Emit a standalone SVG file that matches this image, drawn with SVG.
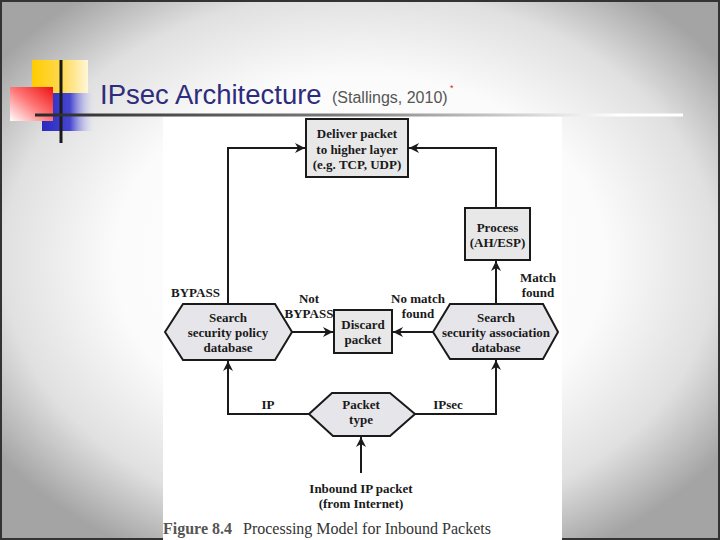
<svg xmlns="http://www.w3.org/2000/svg" width="720" height="540" viewBox="0 0 720 540">
<defs>
<radialGradient id="bg" cx="50%" cy="48%" r="62%">
<stop offset="0" stop-color="#ffffff"/>
<stop offset="0.55" stop-color="#fbfbfb"/>
<stop offset="0.8" stop-color="#e0e0e0"/>
<stop offset="1" stop-color="#a4a4a4"/>
</radialGradient>
<linearGradient id="rule" x1="0" y1="0" x2="1" y2="0">
<stop offset="0" stop-color="#2a2a2a"/>
<stop offset="0.45" stop-color="#777"/>
<stop offset="0.9" stop-color="#ffffff"/>
</linearGradient>
<linearGradient id="yel" x1="0" y1="0" x2="1" y2="0">
<stop offset="0" stop-color="#ffcc00"/>
<stop offset="0.5" stop-color="#ffd84a"/>
<stop offset="1" stop-color="#fff6d8"/>
</linearGradient>
<linearGradient id="red" x1="1" y1="0" x2="0" y2="1">
<stop offset="0" stop-color="#ee1111"/>
<stop offset="0.5" stop-color="#f77"/>
<stop offset="1" stop-color="#ffffff"/>
</linearGradient>
<linearGradient id="blu" x1="0" y1="0" x2="1" y2="0">
<stop offset="0" stop-color="#2a2ac0"/>
<stop offset="0.5" stop-color="#4545d0"/>
<stop offset="1" stop-color="#ffffff" stop-opacity="0"/>
</linearGradient>
<marker id="ah" markerUnits="userSpaceOnUse" markerWidth="11" markerHeight="10" refX="10" refY="5" orient="auto">
<path d="M0,0 L10,5 L0,10 L3,5 Z" fill="#1a1a1a"/>
</marker>
<style>
.ln{fill:none;stroke:#1a1a1a;stroke-width:2}
.bx{fill:#e8e8e8;stroke:#1a1a1a;stroke-width:2}
.hx{fill:#e6e6ea;stroke:#1a1a1a;stroke-width:2}
.t{font-family:"Liberation Serif","Times New Roman",serif;font-weight:bold;font-size:13px;fill:#1a1a1a;text-anchor:middle}
.lb{font-family:"Liberation Serif","Times New Roman",serif;font-weight:bold;font-size:13px;fill:#1a1a1a}
</style>
</defs>
<rect x="0" y="0" width="720" height="540" fill="url(#bg)"/>
<rect x="1" y="1" width="718" height="538" fill="none" stroke="#333" stroke-width="2"/>
<g id="logo">
<rect x="32" y="60" width="56" height="33" fill="url(#yel)"/>
<rect x="42" y="93" width="56" height="38" fill="url(#blu)"/>
<rect x="10" y="87" width="43" height="34" fill="url(#red)"/>
<rect x="59.5" y="60" width="3" height="83" fill="#1a1a1a"/>
</g>
<rect x="35" y="113.5" width="648" height="3" fill="url(#rule)"/>
<g id="title">
<text x="100" y="104" font-family="Liberation Sans, Arial, sans-serif" font-size="27.5" fill="#2e2c7c">IPsec Architecture</text>
<text x="332" y="103" font-family="Liberation Sans, Arial, sans-serif" font-size="16" fill="#555">(Stallings, 2010)</text>
<text x="450" y="91" font-family="Liberation Sans, Arial, sans-serif" font-size="9" fill="#d22">*</text>
</g>
<rect x="163" y="117" width="399" height="423" fill="#ffffff"/>
<g id="connectors">
<polyline class="ln" points="228,304 228,148 305,148" marker-end="url(#ah)"/>
<polyline class="ln" points="496,208 496,148 409,148" marker-end="url(#ah)"/>
<line class="ln" x1="496" y1="304" x2="496" y2="261" marker-end="url(#ah)"/>
<line class="ln" x1="292" y1="332" x2="333" y2="332" marker-end="url(#ah)"/>
<line class="ln" x1="433" y1="332" x2="393" y2="332" marker-end="url(#ah)"/>
<polyline class="ln" points="309,414 228,414 228,361" marker-end="url(#ah)"/>
<polyline class="ln" points="415,414 496,414 496,360" marker-end="url(#ah)"/>
<line class="ln" x1="361" y1="473" x2="361" y2="437" marker-end="url(#ah)"/>
</g>
<g id="deliver">
<rect class="bx" x="306" y="119" width="102" height="58"/>
<text class="t" x="357" y="138">Deliver packet</text>
<text class="t" x="357" y="153.5">to higher layer</text>
<text class="t" x="357" y="169">(e.g. TCP, UDP)</text>
</g>
<g id="process">
<rect class="bx" x="465" y="208" width="65" height="52"/>
<text class="t" x="497.5" y="232">Process</text>
<text class="t" x="497.5" y="247">(AH/ESP)</text>
</g>
<g id="spd">
<polygon class="hx" points="165,332 183,304 275,304 292,332 275,360 183,360"/>
<text class="t" x="228" y="322">Search</text>
<text class="t" x="228" y="337">security policy</text>
<text class="t" x="228" y="352">database</text>
</g>
<g id="discard">
<rect class="bx" x="334" y="310" width="58" height="43"/>
<text class="t" x="363" y="329">Discard</text>
<text class="t" x="363" y="344">packet</text>
</g>
<g id="sad">
<polygon class="hx" points="433,332 450,304 543,304 558,332 543,359 450,359"/>
<text class="t" x="496" y="322">Search</text>
<text class="t" x="496" y="337">security association</text>
<text class="t" x="496" y="352">database</text>
</g>
<g id="ptype">
<polygon class="hx" points="309,414 332,393 390,393 415,414 390,436 333,436"/>
<text class="t" x="361" y="409">Packet</text>
<text class="t" x="361" y="424">type</text>
</g>
<g id="labels">
<text class="lb" x="171" y="297">BYPASS</text>
<text class="t" x="309" y="303">Not</text>
<text class="t" x="309" y="318">BYPASS</text>
<text class="t" x="418" y="303">No match</text>
<text class="t" x="418" y="318">found</text>
<text class="t" x="538" y="282">Match</text>
<text class="t" x="538" y="297">found</text>
<text class="t" x="268" y="409">IP</text>
<text class="t" x="448" y="409">IPsec</text>
</g>
<g id="inbound">
<text class="t" x="361" y="493">Inbound IP packet</text>
<text class="t" x="361" y="508">(from Internet)</text>
</g>
<g id="caption">
<text x="163" y="534" font-family="Liberation Serif, Times New Roman, serif" font-size="16" font-weight="bold" fill="#555">Figure 8.4</text>
<text x="243" y="534" font-family="Liberation Serif, Times New Roman, serif" font-size="16" fill="#333">Processing Model for Inbound Packets</text>
</g>
</svg>
